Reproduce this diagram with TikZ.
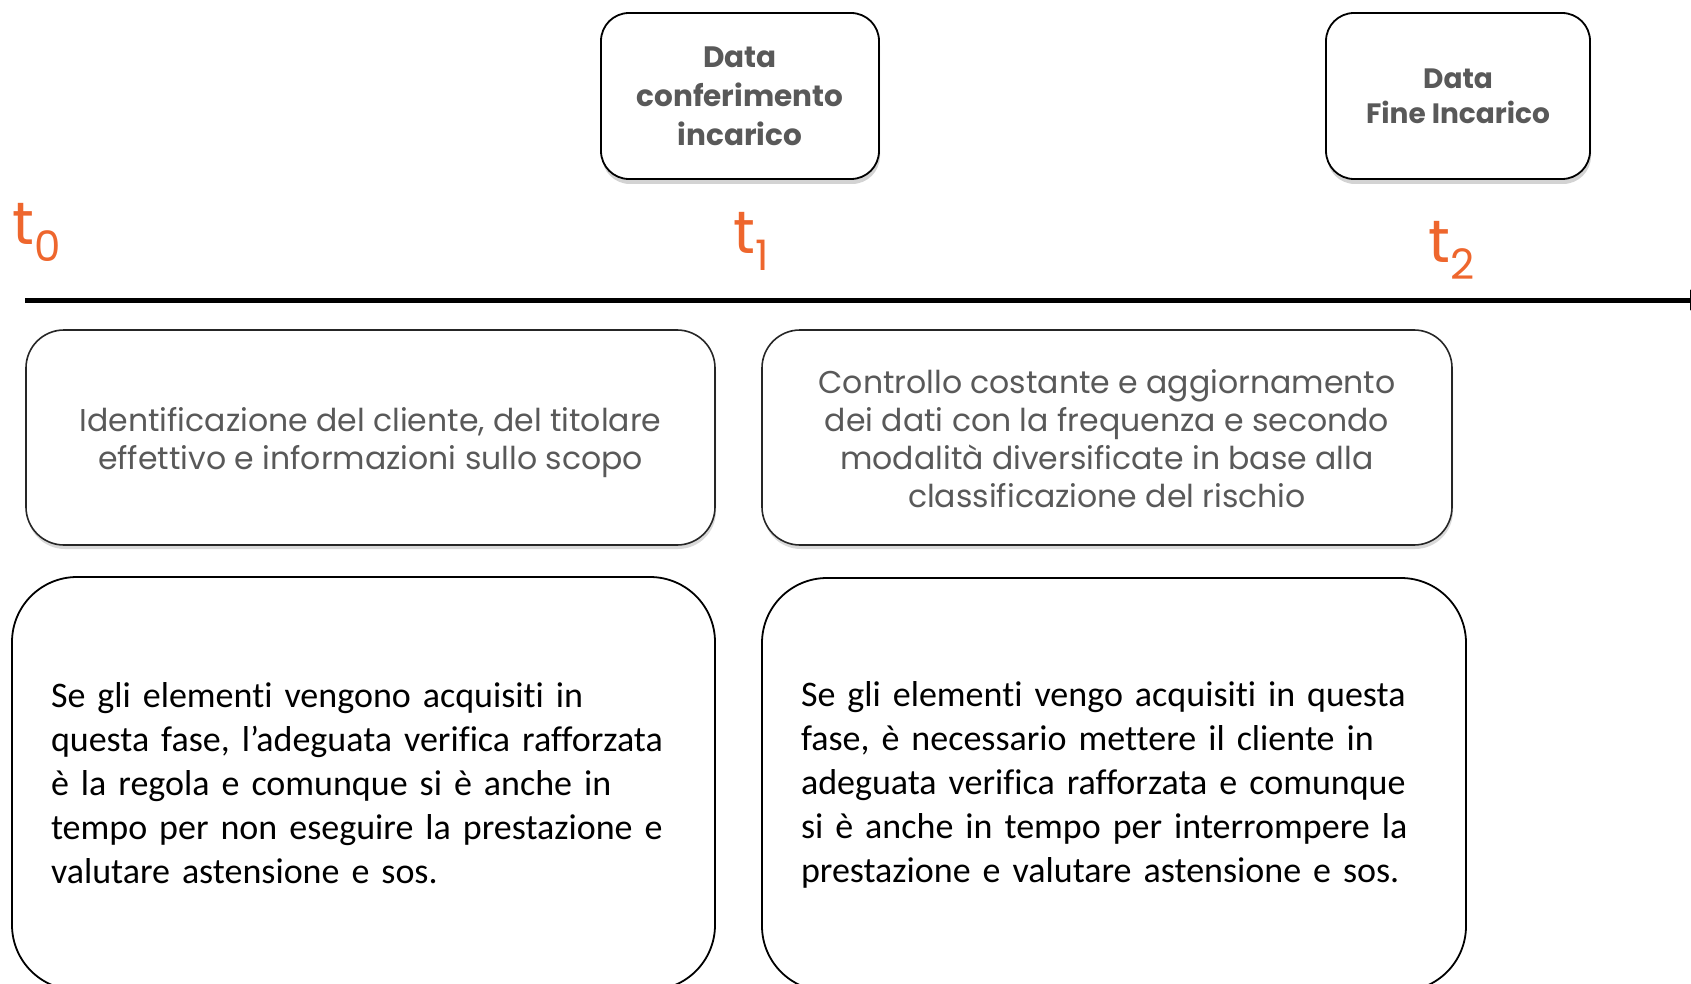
\documentclass[tikz,border=0pt]{standalone}
\usepackage{fontspec}
\usetikzlibrary{shadows,arrows.meta}
\setmainfont[Ligatures=NoCommon]{Carlito}
\newfontfamily\geo{Poppins}
\definecolor{txtgray}{RGB}{89,89,89}
\definecolor{torange}{RGB}{238,102,45}
\tikzset{
  datebox/.style={draw=black, line width=1.8pt, rounded corners=28pt, fill=white,
    drop shadow={shadow xshift=1pt, shadow yshift=-5pt, opacity=0.35},
    align=center, text=txtgray, inner sep=0pt},
  phasebox/.style={draw=black!85, line width=1.6pt, rounded corners=38pt, fill=white,
    drop shadow={shadow xshift=1pt, shadow yshift=-4pt, opacity=0.3},
    align=center, text=txtgray, inner sep=0pt},
  phasetext/.style={align=center, text=txtgray, inner sep=0pt, font=\geo\fontsize{31.5}{38}\selectfont},
  notebox/.style={draw=black, line width=1.8pt, rounded corners=65pt, fill=white,
    align=left, text=black, inner ysep=0pt, inner xsep=39pt},
  tlabel/.style={text=torange, inner sep=0pt, anchor=base west},
}
\begin{document}
\begin{tikzpicture}[x=1pt,y=-1pt]
\useasboundingbox (0,0) rectangle (1691,984);
% date boxes
\node[datebox, minimum width=278pt, minimum height=166pt,
  font=\geo\bfseries\fontsize{29.5}{39}\selectfont] (d1) at (740,96)
  {Data\\conferimento\\incarico};
\node[datebox, minimum width=264pt, minimum height=166pt,
  font=\geo\bfseries\fontsize{28}{35}\selectfont] (d2) at (1458,96)
  {Data\\Fine Incarico};
% time labels
\node[tlabel] (t0) at (12,245) {\geo\fontsize{60}{60}\selectfont t\raisebox{-17pt}{\fontsize{42}{42}\selectfont 0}};
\node[tlabel] (t1) at (733,254) {\geo\fontsize{60}{60}\selectfont t\raisebox{-17pt}{\fontsize{42}{42}\selectfont 1}};
\node[tlabel] (t2) at (1428,263) {\geo\fontsize{60}{60}\selectfont t\raisebox{-17pt}{\fontsize{42}{42}\selectfont 2}};
% timeline
\coordinate (tlstart) at (25,300);
\coordinate (tlend) at (1712,300);
\draw[line width=5pt, -{Latex[length=22pt,width=22pt]}] (tlstart) -- (tlend);
% phase boxes
\node[phasebox, minimum width=689pt, minimum height=215pt] (p1) at (370.5,437.5) {};
\node[phasetext] (p1t) at (370.5,443)
  {Identificazione del cliente, del titolare\\effettivo e informazioni sullo scopo};
\node[phasebox, minimum width=690pt, minimum height=215pt] (p2) at (1107,437.5) {};
\node[phasetext] (p2t) at (1107,439)
  {Controllo costante e aggiornamento\\dei dati con la frequenza e secondo\\modalità diversificate in base alla\\classificazione del rischio};
% note boxes
\node[notebox, minimum width=703pt, minimum height=413pt, text width=625pt,
  font=\fontsize{36}{44}\selectfont] (n1) at (363.5,783.5)
  {Se gli elementi vengono acquisiti in\\questa fase, l’adeguata verifica rafforzata\\è la regola e comunque si è anche in\\tempo per non eseguire la prestazione e\\valutare astensione e sos.};
\node[notebox, minimum width=704pt, minimum height=413pt, text width=626pt,
  font=\fontsize{36}{44}\selectfont] (n2) at (1114,784.5)
  {Se gli elementi vengo acquisiti in questa\\fase, è necessario mettere il cliente in\\adeguata verifica rafforzata e comunque\\si è anche in tempo per interrompere la\\prestazione e valutare astensione e sos.};
\end{tikzpicture}
\end{document}
